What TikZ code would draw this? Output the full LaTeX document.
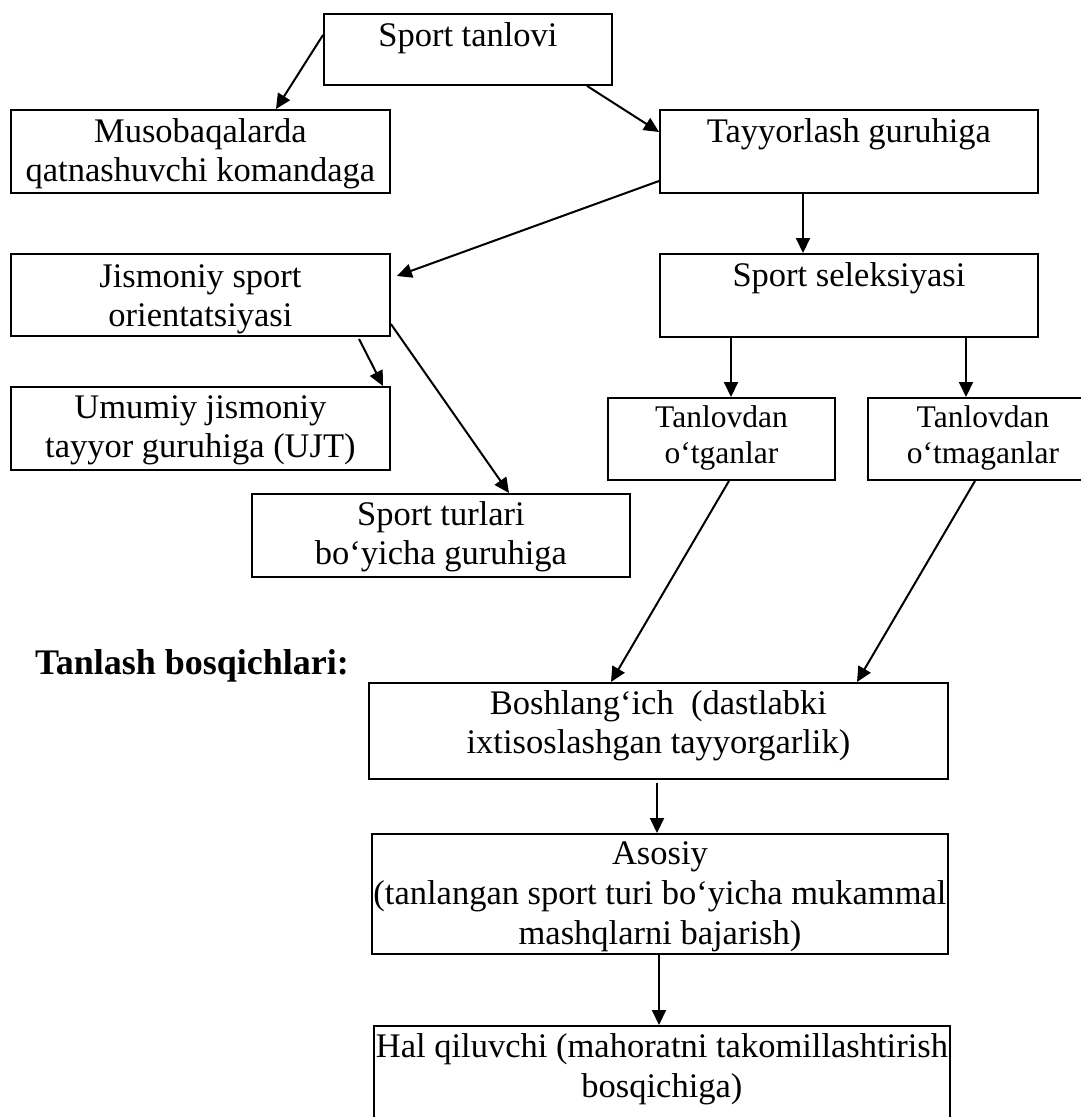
\documentclass[tikz,border=0pt]{standalone}
\usepackage{fontspec}
\setmainfont{Liberation Serif}
\usetikzlibrary{arrows.meta,calc}
\newcommand{\bxt}[4]{\parbox[c][#2pt][t]{#1pt}{\centering\vrule height #3pt width 0pt depth 0pt #4}}
\newcommand{\lc}[1]{\makebox[0pt]{#1}}
\begin{document}
\begin{tikzpicture}[x=1pt,y=-1pt,
  bx/.style={draw, line width=1.9pt, inner sep=0pt, anchor=north west, font=\fontsize{34.5}{39}\selectfont},
  bxs/.style={bx, font=\fontsize{31.5}{36}\selectfont},
  bxw/.style={bx, font=\fontsize{34.5}{40}\selectfont},
  arr/.style={-{Triangle[length=15pt,width=14pt]}, line width=2pt},
  ttl/.style={anchor=base west, inner sep=0pt, font=\fontsize{36}{40}\selectfont\bfseries}]
\useasboundingbox (0,0) rectangle (1081,1117);
\fill[white] (0,0) rectangle (1081,1117);
\begin{scope}
\clip (0,0) rectangle (1081,1117);
\node[bx] (st) at (323,13) {\bxt{288}{71}{33}{\lc{Sport tanlovi}}};
\node[bx] (mu) at (10,109) {\bxt{379}{83}{33}{\lc{Musobaqalarda}\\\lc{qatnashuvchi komandaga}}};
\node[bx] (ty) at (659,109) {\bxt{378}{83}{33}{\lc{Tayyorlash guruhiga}}};
\node[bx] (ji) at (10,253) {\bxt{379}{82}{34}{\lc{Jismoniy sport}\\\lc{orientatsiyasi}}};
\node[bx] (ss) at (659,253) {\bxt{378}{83}{33}{\lc{Sport seleksiyasi}}};
\node[bx] (um) at (10,386) {\bxt{379}{83}{32}{\lc{Umumiy jismoniy}\\\lc{tayyor guruhiga (UJT)}}};
\node[bx] (sr) at (251,493) {\bxt{378}{83}{32}{\lc{Sport turlari}\\\lc{bo‘yicha guruhiga}}};
\node[bxs] (ot) at (607,397) {\bxt{227}{82}{30}{\lc{Tanlovdan}\\\lc{o‘tganlar}}};
\node[bxs] (om) at (867,397) {\bxt{230}{82}{30}{\lc{Tanlovdan}\\\lc{o‘tmaganlar}}};
\node[ttl] (tb) at (35,674) {Tanlash bosqichlari:};
\node[bx] (bo) at (368,682) {\bxt{579}{96}{32}{\lc{Boshlang‘ich\ \ (dastlabki}\\\lc{ixtisoslashgan tayyorgarlik)}}};
\node[bxw] (as) at (371,833) {\bxt{576}{120}{31}{\lc{Asosiy}\\\lc{(tanlangan sport turi bo‘yicha mukammal}\\\lc{mashqlarni bajarish)}}};
\node[bxw] (hq) at (373,1025) {\bxt{576}{130}{32}{\lc{Hal qiluvchi (mahoratni takomillashtirish}\\\lc{bosqichiga)}}};
\draw[arr] ($(st.north west)+(0,22)$) -- ($(mu.north west)+(266,0)$);
\draw[arr] ($(st.south west)+(264,0)$) -- ($(ty.north west)+(0,23)$);
\draw[arr] ($(ty.north west)+(0,72)$) -- ($(ji.north east)+(6,23)$);
\draw[arr] ($(ty.south west)+(144,0)$) -- ($(ss.north west)+(144,0)$);
\draw[arr] ($(ss.south west)+(72,0)$) -- ($(ot.north west)+(124,0)$);
\draw[arr] ($(ss.south west)+(307,0)$) -- ($(om.north west)+(99,0)$);
\draw[arr] ($(ji.south west)+(349,2)$) -- ($(um.north west)+(373,0)$);
\draw[arr] ($(ji.north east)+(0,71)$) -- ($(sr.north west)+(258,0)$);
\draw[arr] ($(ot.south west)+(122,0)$) -- ($(bo.north west)+(243,0)$);
\draw[arr] ($(om.south west)+(108,0)$) -- ($(bo.north west)+(489,0)$);
\draw[arr] ($(bo.south west)+(289,3)$) -- ($(as.north west)+(286,0)$);
\draw[arr] ($(as.south west)+(288,0)$) -- ($(hq.north west)+(286,0)$);
\end{scope}
\end{tikzpicture}
\end{document}
